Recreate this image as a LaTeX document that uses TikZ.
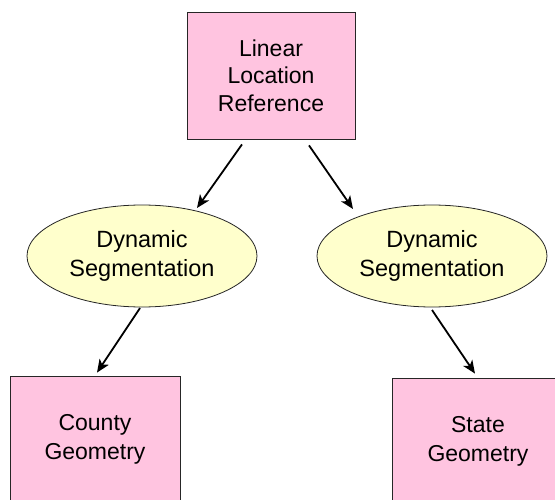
\documentclass[tikz,border=0pt]{standalone}
\usepackage{fontspec}
\setmainfont{Liberation Sans}
\usetikzlibrary{shapes.geometric,arrows.meta,calc}
\definecolor{boxpink}{RGB}{255,196,224}
\definecolor{ellyellow}{RGB}{255,255,204}
\tikzset{
  pinkbox/.style={draw=black!85, line width=0.8pt, fill=boxpink, rectangle, inner sep=0pt,
    minimum height=127pt, align=center, font=\fontsize{23}{28}\selectfont},
  segell/.style={draw=black!85, line width=0.8pt, fill=ellyellow, ellipse, inner sep=0pt,
    minimum width=230pt, minimum height=102pt, align=center, font=\fontsize{23.5}{28.5}\selectfont},
  arr/.style={line width=1.8pt, -{Stealth[length=13pt,width=11pt,inset=3.5pt]}}
}
\begin{document}
\begin{tikzpicture}[x=1pt,y=-1pt]
\useasboundingbox (0,0) rectangle (555,500);
\clip (0,0) rectangle (555,500);
\node[pinkbox, minimum width=168pt, font=\fontsize{23}{27.5}\selectfont] (top) at (271,75.5) {Linear\\Location\\Reference};
\node[segell] (dl) at (142,256) {Dynamic\\Segmentation};
\node[segell] (dr) at (432,256) {Dynamic\\Segmentation};
\node[pinkbox, minimum width=170pt, font=\fontsize{23}{29}\selectfont] (cb) at (95,439.5) {County\\Geometry};
\node[pinkbox, minimum width=172pt, font=\fontsize{23}{29}\selectfont] (sb) at (478,441.5) {State\\Geometry};
\draw[arr] ($(top.south)+(-29,5)$) -- ($(dl.center)+(55,-48)$);
\draw[arr] ($(top.south)+(38,6)$) -- ($(dr.center)+(-79,-47)$);
\draw[arr] ($(dl.center)+(-2,52)$) -- ($(cb.north)+(2,-3)$);
\draw[arr] ($(dr.center)+(0,54)$) -- ($(sb.north)+(-3,-4)$);
\end{tikzpicture}
\end{document}
